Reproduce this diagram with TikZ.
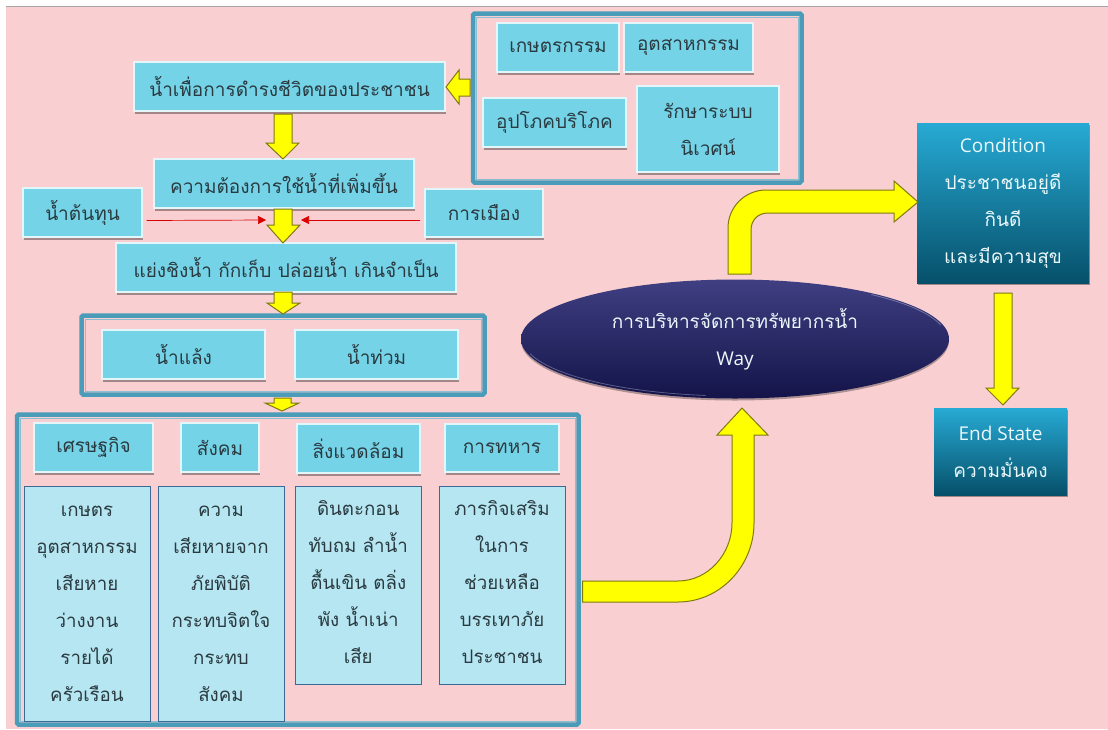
\documentclass[tikz,border=0pt]{standalone}
\usepackage{fontspec}
\setmainfont[Script=Thai]{Loma}
\newfontfamily\latf{Open Sans}
\usetikzlibrary{shapes.geometric,shadows,calc,arrows.meta}
\definecolor{pinkbg}{HTML}{F9CFD2}
\definecolor{cyanbox}{HTML}{75D3E8}
\definecolor{lightbox}{HTML}{B5E6F2}
\definecolor{frameblue}{HTML}{4A9CB8}
\definecolor{bluedge}{HTML}{3A6A96}
\definecolor{arrowyel}{HTML}{FFFF00}
\definecolor{arrowedge}{HTML}{7F7A10}
\definecolor{gradtop}{HTML}{27AAD4}
\definecolor{gradbot}{HTML}{06506A}
\definecolor{navytop}{HTML}{3F3F82}
\definecolor{navybot}{HTML}{14144A}
\definecolor{txt}{HTML}{2A3A40}
\tikzset{
  x=1pt,y=-1pt,
  cbox/.style={draw=white!80!cyanbox,line width=1.4pt,fill=cyanbox,text=txt,align=center,font=\fontsize{19}{37}\selectfont,inner sep=0pt,
     drop shadow={shadow xshift=0.5pt,shadow yshift=-3pt,fill=black,opacity=.35}},
  lbox/.style={draw=bluedge,line width=1pt,fill=lightbox,text=txt,align=center,font=\fontsize{18.7}{37}\selectfont,inner sep=0pt},
  frame/.style={draw=frameblue,line width=4.5pt,rounded corners=1.5pt},
  frameinner/.style={draw=white!35!frameblue,line width=1pt},
  darkbox/.style={top color=gradtop,bottom color=gradbot,text=white!85!cyanbox,align=center,font=\fontsize{19}{37}\selectfont,inner sep=0pt,
     drop shadow={shadow xshift=0.5pt,shadow yshift=-2pt,fill=black,opacity=.35}},
  blockarrow/.style={fill=arrowyel,draw=arrowedge,line width=1pt,line join=miter},
  redarrow/.style={draw=red!85!black,line width=.7pt,-{Triangle[length=8pt,width=8pt]}},
}
\newcommand{\boxat}[6][cbox]{\node[#1,minimum width=#4-#2,minimum height=#5-#3] (#6) at ({(#2+#4)/2},{(#3+#5)/2})}
\newcommand{\drop}{\rule[-6pt]{0pt}{6pt}}
\begin{document}
\begin{tikzpicture}
\useasboundingbox (0,0) rectangle (1108,729);
\fill[white] (0,0) rectangle (1108,729);
\fill[pinkbg] (6,7) rectangle (1108,729);
\draw[black!35,line width=.8pt] (6,6.5) -- (1108,6.5);

% frames
\draw[frame] (473,13.5) rectangle (801.5,182.5);
\draw[frameinner] (476.5,17) rectangle (798,179);
\draw[frame] (81.5,315.5) rectangle (484.5,394.5);
\draw[frameinner] (85,319) rectangle (481,391);
\draw[frame] (17,414.5) rectangle (578.5,724.5);
\draw[frameinner] (20.5,418) rectangle (575,721);

% top group
\boxat{497}{23}{619}{72}{farm} {เกษตรกรรม};
\boxat{624}{23}{753}{72}{indus} {อุตสาหกรรม};
\boxat{483}{98}{626}{147}{consume} {อุปโภคบริโภค};
\boxat{637}{86}{779}{172}{eco} {รักษาระบบ\\นิเวศน์};

% main flow
\boxat{134}{62}{445}{111}{life} {น้ำเพื่อการดำรงชีวิตของประชาชน};
\boxat{154}{159}{414}{208}{demand} {ความต้องการใช้น้ำที่เพิ่มขึ้น};
\boxat{23}{188}{142}{237}{source} {น้ำต้นทุน};
\boxat{425}{189}{543}{237}{politics} {การเมือง};
\boxat{116}{243}{456}{292}{compete} {แย่งชิงน้ำ กักเก็บ ปล่อยน้ำ เกินจำเป็น};
\boxat{102}{330}{265}{379}{drought} {น้ำแล้ง};
\boxat{295}{330}{458}{379}{flood} {น้ำท่วม};

% bottom group headers
\boxat{34}{423}{153}{472}{econ} {เศรษฐกิจ};
\boxat{181}{423}{259}{472}{soc} {สังคม};
\boxat{297}{424}{420}{473}{env} {สิ่งแวดล้อม};
\boxat{445}{424}{559}{472}{mil} {การทหาร};

% bottom group bodies
\boxat[lbox]{24}{486}{150}{721}{econb} {เกษตร\\อุตสาหกรรม\\เสียหาย\\ว่างงาน\\รายได้\\ครัวเรือน};
\boxat[lbox]{158}{486}{284}{721}{socb} {ความ\\เสียหายจาก\\ภัยพิบัติ\\กระทบจิตใจ\\กระทบ\\สังคม};
\boxat[lbox]{295.5}{486}{421}{684}{envb} {ดินตะกอน\\ทับถม ลำน้ำ\\ตื้นเขิน ตลิ่ง\\พัง น้ำเน่า\\เสีย\drop};
\boxat[lbox]{439}{486}{565}{684}{milb} {ภารกิจเสริม\\ในการ\\ช่วยเหลือ\\บรรเทาภัย\\ประชาชน\drop};

% ellipse
\node[ellipse,minimum width=428,minimum height=119,inner sep=0pt,top color=navytop,bottom color=navybot,
      text=white!85!cyanbox,align=center,font=\fontsize{19}{37}\selectfont,
      drop shadow={shadow xshift=0pt,shadow yshift=-2pt,fill=black,opacity=.3}] (way) at (735,339) {การบริหารจัดการทรัพยากรน้ำ\\{\latf Way}};
\draw[white!60!navytop,line width=.8pt,opacity=.5] plot[domain=14:50,samples=30] ({735+212*cos(\x)},{339-58*sin(\x)});
\draw[white!50!navytop,line width=.8pt,opacity=.5] plot[domain=195:262,samples=30] ({735+212*cos(\x)},{339-57*sin(\x)});

% dark boxes
\boxat[darkbox]{917}{123}{1089}{283}{cond} {{\latf Condition}\\ประชาชนอยู่ดี\\กินดี\\และมีความสุข};
\boxat[darkbox]{934}{408}{1067}{495}{endst} {{\latf End State}\\ความมั่นคง};

% block arrows
\draw[blockarrow] (470,79)--(459,79)--(459,70)--(446,87)--(459,104)--(459,96)--(470,96)--cycle;
\draw[blockarrow] (274,114)--(274,143)--(266,143)--(283,159)--(299,143)--(292,143)--(292,114)--cycle;
\draw[blockarrow] (274,209)--(274,225)--(267,225)--(283,243)--(300,225)--(292,225)--(292,209)--cycle;
\draw[blockarrow] (274,292)--(274,303)--(267,303)--(283,314)--(300,303)--(292,303)--(292,292)--cycle;
\draw[blockarrow] (274,398)--(274,403)--(265,403)--(282,411)--(299,403)--(291,403)--(291,398)--cycle;
% up and right
\draw[blockarrow] (728,274)--(728,228) .. controls (728,207) and (745,190) .. (766,190)
   --(894,190)--(894,181)--(918,202)--(894,222)--(894,213)--(768,213)
   .. controls (758,213) and (751,220) .. (751,230) --(751,274)--cycle;
% right and up
\draw[blockarrow] (582.5,581)--(678,581) .. controls (708,581) and (732,554) .. (732,523)
   --(732,435)--(717,435)--(742,408)--(768,435)--(754,435)--(754,523)
   .. controls (754,566) and (720,602) .. (678,602)--(582.5,602)--cycle;
\draw[blockarrow] (994,293)--(994,388)--(986,388)--(1003,405)--(1019,388)--(1012,388)--(1012,293)--cycle;

% red connectors
\coordinate (rl) at (266,220);
\coordinate (rr) at (301,220);
\draw[redarrow] ([xshift=4pt,yshift=-8pt]source.east) -- (rl);
\draw[redarrow] ([xshift=-4pt,yshift=-7pt]politics.west) -- (rr);
\end{tikzpicture}
\end{document}
